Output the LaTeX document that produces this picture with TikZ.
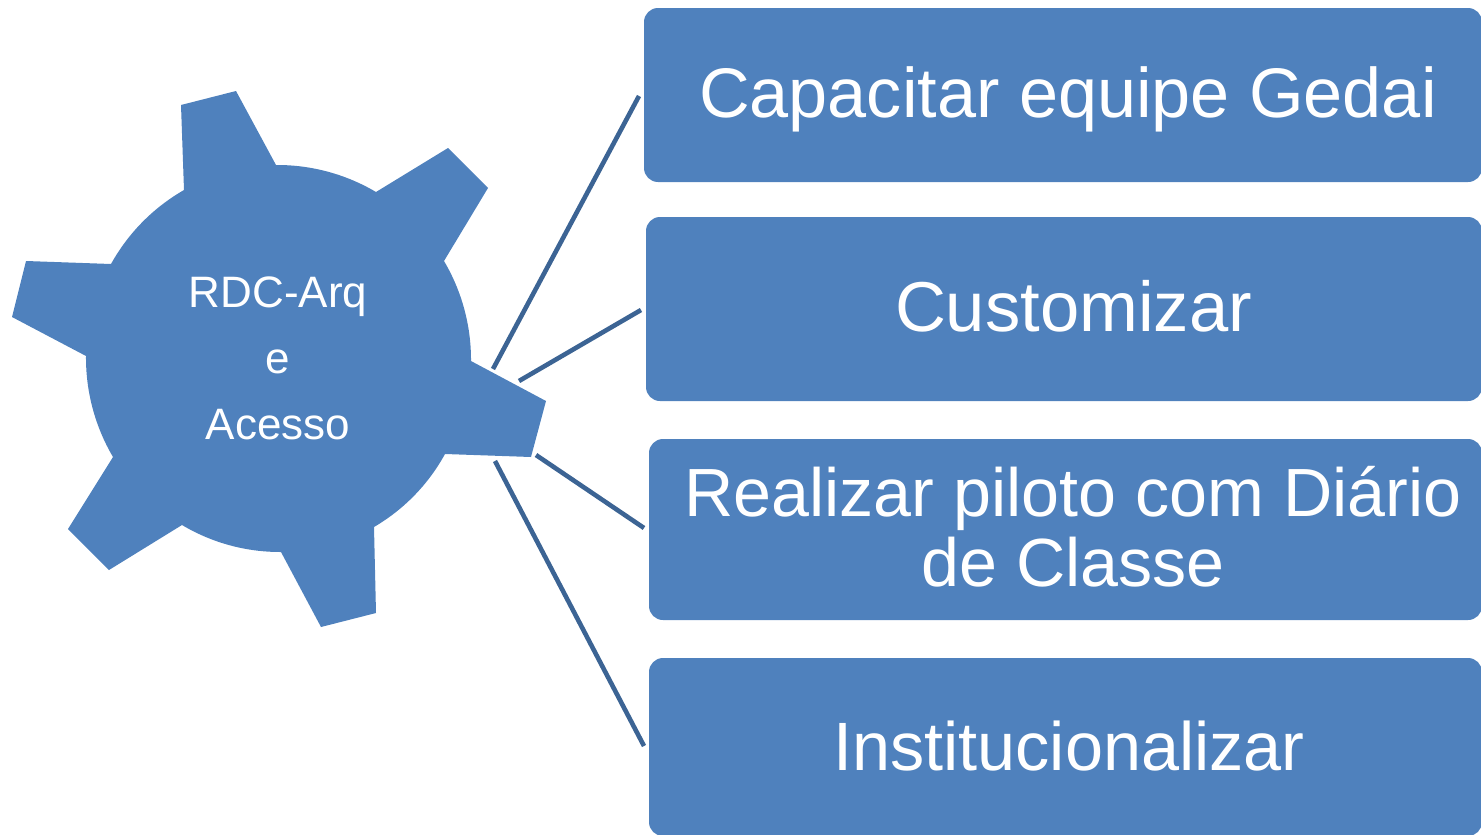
\documentclass[tikz,border=0pt]{standalone}
\usepackage{fontspec}
\setmainfont{Liberation Sans}
\definecolor{fillblue}{HTML}{4F81BD}
\definecolor{lineblue}{HTML}{3C6494}
\tikzset{
  taskbox/.style={fill=fillblue,rounded corners=14pt,draw=none},
  tasklabel/.style={text=white,align=center,inner sep=0pt},
  gearlabel/.style={text=white,font=\fontsize{44}{66}\selectfont,align=center,inner sep=0pt},
  link/.style={draw=lineblue,line width=4.6pt},
  rim/.style={bend left=15.5,looseness=0.87}
}
\begin{document}
\begin{tikzpicture}[x=1pt,y=-1pt]
\useasboundingbox (0,0) rectangle (1481,835);
\clip (0,0) rectangle (1481,835);
\fill[fillblue] (236,91) -- (276,165) to[rim] (376,192) -- (448,148) -- (488,188) -- (444,261)
  to[rim] (471,361) -- (546,401) -- (531,457) -- (445,454)
  to[rim] (374,527) -- (376,613) -- (321,627) -- (281,552)
  to[rim] (182,525) -- (109,570) -- (68,529) -- (113,457)
  to[rim] (86,356) -- (12,317) -- (26,261) -- (111,264)
  to[rim] (184,190) -- (181,105) -- cycle;
\node[gearlabel] (gear) at (278,358) {RDC-Arq\\e\\Acesso};
\fill[taskbox] (644,8) rectangle (1482,182);
\fill[taskbox] (646,217) rectangle (1482,401);
\fill[taskbox] (649,439) rectangle (1482,620);
\fill[taskbox] (649,658) rectangle (1482,836);
\node[tasklabel,font=\fontsize{70.2}{70}\selectfont] (t1) at (1068,99) {Capacitar equipe Gedai};
\node[tasklabel,font=\fontsize{70.6}{70}\selectfont] (t2) at (1073.5,306) {Customizar};
\node[tasklabel,font=\fontsize{68.2}{70}\selectfont] (t3) at (1073,527) {Realizar piloto com Diário\\de Classe};
\node[tasklabel,font=\fontsize{68.4}{70}\selectfont] (t4) at (1069,746) {Institucionalizar};
\coordinate (a1) at (493,369); \coordinate (b1) at (639,96);
\coordinate (a2) at (519,381); \coordinate (b2) at (641,310);
\coordinate (a3) at (536,455); \coordinate (b3) at (644,528);
\coordinate (a4) at (495,461); \coordinate (b4) at (644,746);
\draw[link] (a1) -- (b1);
\draw[link] (a2) -- (b2);
\draw[link] (a3) -- (b3);
\draw[link] (a4) -- (b4);
\end{tikzpicture}
\end{document}
